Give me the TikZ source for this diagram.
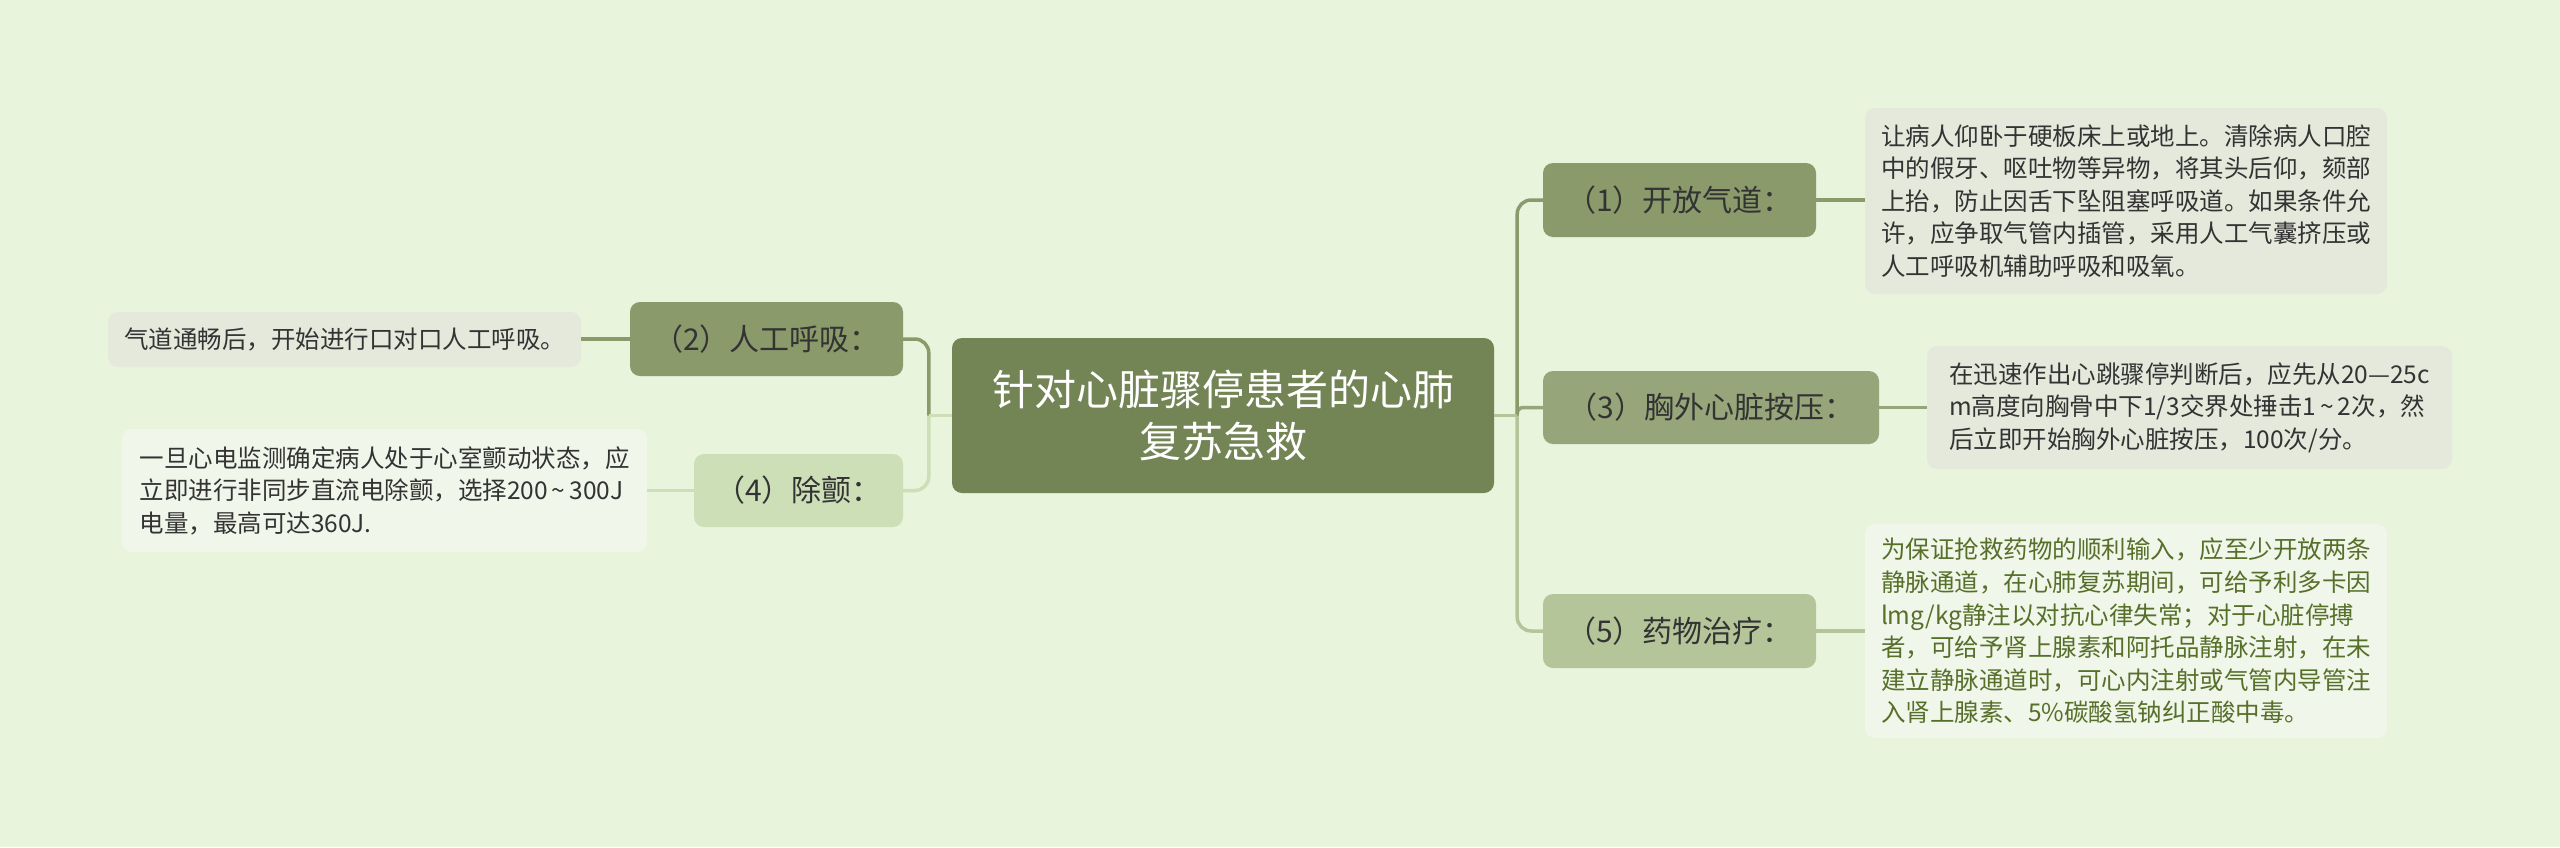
\documentclass[tikz,border=0pt]{standalone}
\usepackage{fontspec}
\setmainfont{Noto Sans CJK SC}
\definecolor{bg}{HTML}{E8F4DC}
\definecolor{rootc}{HTML}{738455}
\definecolor{lvA}{HTML}{8A9A6B}
\definecolor{lvB}{HTML}{97A67A}
\definecolor{lvC}{HTML}{B4C699}
\definecolor{lvD}{HTML}{CCDFB7}
\definecolor{leafA}{HTML}{E5E9DC}
\definecolor{leafB}{HTML}{F1F6EA}
\definecolor{txt}{HTML}{333333}
\definecolor{gtxt}{HTML}{56702A}
\newcommand{\tld}{\,\char`\~\,}
\begin{document}
\begin{tikzpicture}[x=1pt,y=-1pt,
  rootbox/.style={fill=rootc,rounded corners=10pt,inner sep=0pt,text=white,align=center,font=\fontsize{42}{52}\selectfont},
  lvbox/.style={rounded corners=10pt,inner sep=0pt,text=txt,font=\fontsize{30}{36}\selectfont},
  leafbox/.style={rounded corners=10pt,inner sep=0pt,text=txt,align=left,font=\fontsize{24.5}{32.6}\selectfont},
  conn/.style={line width=3.5pt},
]
\useasboundingbox[fill=bg] (0,0) rectangle (2560,847);
% root
\node[rootbox,minimum width=542pt,minimum height=155pt] (root) at (1223,415.5) {针对心脏骤停患者的心肺\\复苏急救};
% level 1
\node[lvbox,fill=lvA,minimum width=273pt,minimum height=74pt] (n1) at (1679.5,200) {（1）开放气道：};
\node[lvbox,fill=lvB,minimum width=336pt,minimum height=73pt] (n3) at (1711,407.5) {（3）胸外心脏按压：};
\node[lvbox,fill=lvC,minimum width=273pt,minimum height=74pt] (n5) at (1679.5,631) {（5）药物治疗：};
\node[lvbox,fill=lvA,minimum width=273pt,minimum height=74pt] (n2) at (766.5,339) {（2）人工呼吸：};
\node[lvbox,fill=lvD,minimum width=209pt,minimum height=73pt] (n4) at (798.5,490.5) {（4）除颤：};
% leaves
\node[leafbox,fill=leafA,minimum width=522pt,minimum height=186pt] (l1) at (2126,201) {让病人仰卧于硬板床上或地上。清除病人口腔\\中的假牙、呕吐物等异物，将其头后仰，颏部\\上抬，防止因舌下坠阻塞呼吸道。如果条件允\\许，应争取气管内插管，采用人工气囊挤压或\\人工呼吸机辅助呼吸和吸氧。};
\node[leafbox,fill=leafA,minimum width=525pt,minimum height=123pt] (l3) at (2189.5,407.5) {在迅速作出心跳骤停判断后，应先从20—25c\\m高度向胸骨中下1/3交界处捶击1\tld2次，然\\后立即开始胸外心脏按压，100次/分。};
\node[leafbox,fill=leafB,text=gtxt,minimum width=522pt,minimum height=214pt] (l5) at (2126,631) {为保证抢救药物的顺利输入，应至少开放两条\\静脉通道，在心肺复苏期间，可给予利多卡因\\lmg/kg静注以对抗心律失常；对于心脏停搏\\者，可给予肾上腺素和阿托品静脉注射，在未\\建立静脉通道时，可心内注射或气管内导管注\\入肾上腺素、5\%碳酸氢钠纠正酸中毒。};
\node[leafbox,fill=leafA,minimum width=473pt,minimum height=55pt] (l2) at (344.5,339.5) {气道通畅后，开始进行口对口人工呼吸。};
\node[leafbox,fill=leafB,minimum width=525pt,minimum height=123pt] (l4) at (384.5,490.5) {一旦心电监测确定病人处于心室颤动状态，应\\立即进行非同步直流电除颤，选择200\tld300J\\电量，最高可达360J.};
% trunks
\coordinate (tR) at ([xshift=23pt]root.east);
\coordinate (tL) at ([xshift=-23pt]root.west);
\draw[conn,lvC] (tR) [rounded corners=14pt] |- (n5.west);
\draw[conn,lvB] (tR) [rounded corners=6pt] |- (n3.west);
\draw[conn,lvA] (tR) [rounded corners=14pt] |- (n1.west);
\draw[conn,lvC] (root.east) -- (tR);
\draw[conn,lvD] (tL) [rounded corners=14pt] |- (n4.east);
\draw[conn,lvA] (tL) [rounded corners=14pt] |- (n2.east);
\draw[conn,lvD] (root.west) -- (tL);
% leaf connectors
\draw[conn,lvA] (n1.east) -- (n1.east -| l1.west);
\draw[conn,lvB] (n3.east) -- (n3.east -| l3.west);
\draw[conn,lvC] (n5.east) -- (n5.east -| l5.west);
\draw[conn,lvA] (n2.west) -- (n2.west -| l2.east);
\draw[conn,lvD] (n4.west) -- (n4.west -| l4.east);
\end{tikzpicture}
\end{document}
